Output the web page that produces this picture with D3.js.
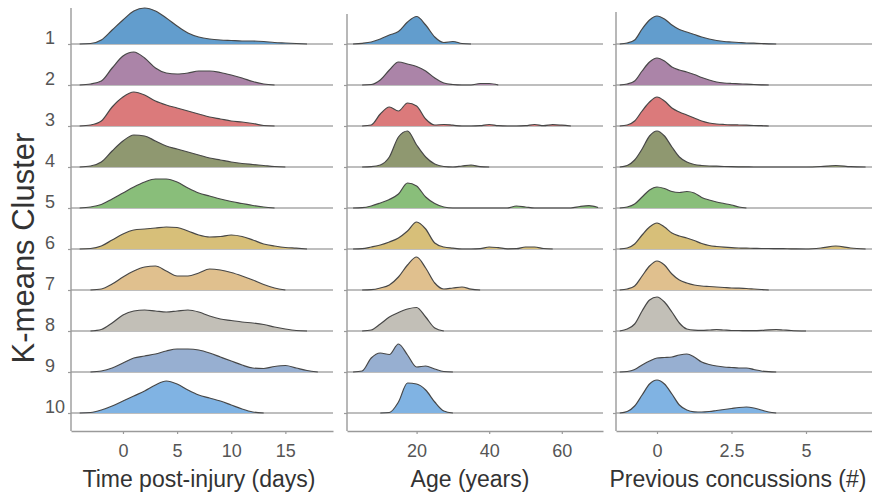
<!DOCTYPE html>
<html>
<head>
<meta charset="utf-8">
<script src="https://cdn.jsdelivr.net/npm/d3@7"></script>
<style>
  body { margin: 0; background: #fff; }
  svg { display: block; font-family: "Liberation Sans", Arial, Helvetica, sans-serif; }
</style>
</head>
<body>
<script>
// clusters, top to bottom
let clusters = ["1", "2", "3", "4", "5", "6", "7", "8", "9", "10"];
let clusterColors = ["#629dcd", "#ab84a8", "#db7a7b", "#8f9870", "#89be7a",
                     "#d7bf79", "#e0c08e", "#c2bfb7", "#97afd1", "#80b3e3"];

// density curves (relative units)
let timeGrid = [-4, -3, -2, -1, 0, 1, 2, 3, 4, 5, 6, 7, 8, 9, 10, 11, 12, 13, 14, 15, 16, 17, 18];
let timeDensity = [
  [0, 0.5, 4, 14, 24, 33, 36, 33, 26, 18, 11, 7, 5, 4, 3.5, 3, 3, 2.5, 1.5, 1, 0.5, 0, 0],
  [0, 1, 4, 17, 29, 33, 27, 17, 12, 11, 12, 14, 14, 12.5, 10, 7, 3.5, 1, 0, 0, 0, 0, 0],
  [0, 1, 5, 19, 29, 34, 31, 25, 21, 18, 15, 12, 9, 7, 5, 4, 2.5, 0.5, 0, 0, 0, 0, 0],
  [0, 1, 5, 16, 26, 32, 31, 26, 21, 18, 15, 12, 9, 7, 5, 3.5, 2.5, 1.5, 0.5, 0, 0, 0, 0],
  [0, 1, 3.5, 9, 15, 21, 26, 29, 29, 26, 20, 15, 12, 9, 6.5, 4.5, 2.5, 1, 0, 0, 0, 0, 0],
  [0, 0.5, 3, 9, 15, 19, 20, 21, 22, 21.5, 18, 14, 12, 12.5, 14, 12.5, 9, 5, 3, 1.5, 0.8, 0, 0],
  [0, 0, 1, 6, 13, 19, 23, 24, 19, 14, 14, 17, 21, 20, 17.5, 14, 10, 5.5, 2, 0, 0, 0, 0],
  [0, 0, 1.5, 8, 16, 20, 21, 20, 19, 20, 21, 19, 15, 12, 10.5, 9, 8, 6.5, 4, 2, 0.5, 0, 0],
  [0, 0, 1, 4, 9, 14, 16, 18, 21, 23, 23, 22, 19, 15, 11, 7, 4, 3.5, 5.5, 6.5, 4, 1.5, 0],
  [0, 0.5, 3, 7, 12, 17, 22, 28, 32, 29, 23, 18, 15, 12, 8, 4, 1, 0, 0, 0, 0, 0, 0]
];

let ageGrid = [2.5, 5, 7.5, 10, 12.5, 15, 17.5, 20, 22.5, 25, 27.5, 30, 32.5, 35, 37.5, 40,
               42.5, 45, 47.5, 50, 52.5, 55, 57.5, 60, 62.5, 65, 67.5, 70];
let ageDensity = [
  [0, 0.7, 2, 5, 9, 12.5, 22, 27.5, 19, 7, 1.5, 2.5, 0.5, 0, 0, 0, 0, 0, 0, 0, 0, 0, 0, 0, 0, 0, 0, 0],
  [0, 0, 0.5, 5, 15, 23, 21, 18.5, 14, 7, 2, 0.5, 0, 0, 1.5, 1.5, 0, 0, 0, 0, 0, 0, 0, 0, 0, 0, 0, 0],
  [0, 0, 1, 12, 19, 15, 23, 20, 7, 1, 1.5, 0.8, 0, 0, 0.3, 1.5, 0.3, 0, 0, 0.3, 1.5, 0.3, 1.3, 0.8, 0, 0, 0, 0],
  [0, 0, 0.3, 2, 10, 30, 36, 22, 10, 3, 0.5, 0, 1, 2, 0.3, 0, 0, 0, 0, 0, 0, 0, 0, 0, 0, 0, 0, 0],
  [0, 0.3, 2, 5, 8.5, 14, 25, 22, 11, 4.5, 1, 0, 0, 0, 0, 0, 0, 0, 2, 1, 0, 0, 0, 0, 0, 1.5, 2.3, 0.5],
  [0, 0.3, 2, 4, 7, 11, 18, 27, 20, 6, 2, 0.8, 0, 0, 0.3, 2, 1.3, 0.2, 0.3, 2, 2, 0.5, 0, 0, 0, 0, 0, 0],
  [0, 0, 0.3, 2, 5, 13, 25, 33, 22, 7, 1, 2, 3, 0.8, 0, 0, 0, 0, 0, 0, 0, 0, 0, 0, 0, 0, 0, 0],
  [0, 0, 1, 7, 14, 18.5, 22, 23.5, 14, 3, 0, 0, 0, 0, 0, 0, 0, 0, 0, 0, 0, 0, 0, 0, 0, 0, 0, 0],
  [0, 1, 14, 19, 17.5, 28, 17, 5, 6, 3, 0.5, 0, 0, 0, 0, 0, 0, 0, 0, 0, 0, 0, 0, 0, 0, 0, 0, 0],
  [0, 0, 0, 0, 0.5, 11, 30, 29, 23, 11, 2, 0, 0, 0, 0, 0, 0, 0, 0, 0, 0, 0, 0, 0, 0, 0, 0, 0]
];

let concGrid = [-1.25, -1, -0.75, -0.5, -0.25, 0, 0.25, 0.5, 0.75, 1, 1.25, 1.5, 1.75, 2, 2.25,
                2.5, 2.75, 3, 3.25, 3.5, 3.75, 4, 4.25, 4.5, 5, 5.5, 6, 6.5, 7];
let concDensity = [
  [0, 1, 4, 15, 24, 28, 25, 19, 14.5, 12, 9.5, 7, 5, 3.5, 2.5, 2, 1.5, 1, 0.8, 0.5, 0.2, 0, 0, 0, 0, 0, 0, 0, 0],
  [0, 1, 4, 14, 23, 27, 24, 18, 15, 13, 10.5, 7.5, 5, 3, 2, 1.5, 1.2, 0.8, 0.5, 0.2, 0, 0, 0, 0, 0, 0, 0, 0, 0],
  [0, 1, 5, 15, 24, 29, 25, 18, 14, 11, 8, 5, 3, 2, 1.5, 1.2, 1, 0.8, 0.5, 0.3, 0, 0, 0, 0, 0, 0, 0, 0, 0],
  [0, 1.5, 7, 18, 31, 36, 31, 20, 10, 5, 2.5, 1.5, 1, 0.8, 0.5, 0.3, 0.2, 0.1, 0, 0, 0, 0, 0, 0, 0, 0.5, 1.5, 0.3, 0],
  [0, 1, 4, 11, 18, 21, 19.5, 16.5, 15.5, 16.5, 15, 10.5, 8, 6, 4.5, 3, 1, 0, 0, 0, 0, 0, 0, 0, 0, 0, 0, 0, 0],
  [0, 1, 5, 14, 22, 26, 22, 16, 13, 11, 8.5, 5.5, 3.5, 2.5, 1.8, 1.3, 1, 0.8, 0.7, 0.5, 0.5, 0.4, 0.3, 0.2, 0, 1, 3, 1, 0],
  [0, 1, 4, 14, 24, 29, 25, 16, 10, 7, 5, 4, 3.5, 3, 2.5, 2, 1.8, 1.5, 1, 0.5, 0, 0, 0, 0, 0, 0, 0, 0, 0],
  [0, 2, 7, 20, 31, 34, 29, 19, 8, 2, 0.8, 0.6, 1, 1.5, 1, 0.5, 0.5, 0.3, 0.3, 0.6, 1.2, 1.5, 1, 0.5, 0, 0, 0, 0, 0],
  [0, 0.5, 2.5, 7, 11, 14, 14.5, 15, 17, 18, 15, 10, 7.5, 6, 5, 4.5, 4, 4, 2.5, 1, 0.3, 0, 0, 0, 0, 0, 0, 0, 0],
  [0, 1.5, 7, 18, 29, 33, 29, 19, 8, 3, 1.2, 1, 1.5, 2.5, 3.5, 4.5, 5.5, 6, 5, 3, 1, 0, 0, 0, 0, 0, 0, 0, 0]
];

let timeTicks = [0, 5, 10, 15];
let ageTicks = [20, 40, 60];
let concTicks = [0, 2.5, 5];

let w = 872;
let h = 495;
let xAxisY = 431;
let rowLabelX = 45;

let panels = [
  { grid: timeGrid, dens: timeDensity, ticks: timeTicks, domain: [-4.8, 19.4], range: [71, 333],
    top: 8, title: "Time post-injury (days)", titleX: 199, showLabels: true },
  { grid: ageGrid, dens: ageDensity, ticks: ageTicks, domain: [0.83, 71.35], range: [347, 603],
    top: 14, title: "Age (years)", titleX: 470, showLabels: false },
  { grid: concGrid, dens: concDensity, ticks: concTicks, domain: [-1.376, 7.215], range: [616, 872],
    top: 12, title: "Previous concussions (#)", titleX: 738, showLabels: false }
];

let rowScale = d3.scalePoint().domain(clusters).range([44, 413]);
let heightScale = d3.scaleLinear().domain([0, 40]).range([0, 40]);

let svg = d3.select("body")
  .append("svg")
  .attr("width", w)
  .attr("height", h);

panels.forEach(function(p) {
  let xScale = d3.scaleLinear().domain(p.domain).range(p.range);
  let g = svg.append("g");

  // ridges, top row first so lower rows sit over it
  clusters.forEach(function(c, i) {
    let base = rowScale(c);
    let vals = p.dens[i];
    let pts = p.grid.map((x, j) => [x, vals[j]]);
    // trim long runs of zeros so the outline stops where the density stops
    let first = 0, last = pts.length - 1;
    while (first < last && vals[first + 1] === 0) first++;
    while (last > first && vals[last - 1] === 0) last--;
    pts = pts.slice(first, last + 1);

    g.append("line")
      .attr("x1", p.range[0])
      .attr("x2", p.range[1])
      .attr("y1", base)
      .attr("y2", base)
      .attr("stroke", "#a8a8a8")
      .attr("stroke-width", 1.4);

    let area = d3.area()
      .x(d => xScale(d[0]))
      .y0(base)
      .y1(d => base - heightScale(d[1]))
      .curve(d3.curveMonotoneX);
    let line = d3.line()
      .x(d => xScale(d[0]))
      .y(d => base - heightScale(d[1]))
      .curve(d3.curveMonotoneX);

    g.append("path")
      .attr("d", area(pts))
      .attr("fill", clusterColors[i]);
    g.append("path")
      .attr("d", line(pts))
      .attr("fill", "none")
      .attr("stroke", "#474747")
      .attr("stroke-width", 1.2);
  });

  // y axis: line plus tiny ticks at each baseline
  let yAxis = d3.axisLeft(rowScale)
    .tickSize(3)
    .tickFormat(p.showLabels ? (d => d) : "");
  let yg = g.append("g")
    .attr("transform", "translate(" + p.range[0] + ",0)")
    .call(yAxis);
  yg.select(".domain").remove();
  yg.selectAll("line").attr("stroke", "#9a9a9a").attr("stroke-width", 1.2);
  yg.selectAll("text")
    .attr("text-anchor", "start")
    .attr("x", rowLabelX - p.range[0])
    .attr("dy", "0em")
    .attr("y", -1)
    .attr("fill", "#555")
    .style("font-size", "18px");
  g.append("line")
    .attr("x1", p.range[0])
    .attr("x2", p.range[0])
    .attr("y1", p.top)
    .attr("y2", xAxisY)
    .attr("stroke", "#9a9a9a")
    .attr("stroke-width", 1.4);

  // x axis
  let xAxis = d3.axisBottom(xScale)
    .tickValues(p.ticks)
    .tickSize(3)
    .tickSizeOuter(0)
    .tickPadding(10)
    .tickFormat(d3.format("~g"));
  let xg = g.append("g")
    .attr("transform", "translate(0," + xAxisY + ")")
    .call(xAxis);
  xg.select(".domain").attr("stroke", "#9a9a9a").attr("stroke-width", 1.4);
  xg.selectAll(".tick line").attr("stroke", "#9a9a9a").attr("stroke-width", 1.2);
  xg.selectAll("text")
    .attr("fill", "#555")
    .style("font-size", "18px");

  g.append("text")
    .attr("x", p.titleX)
    .attr("y", 487)
    .attr("text-anchor", "middle")
    .attr("fill", "#333")
    .style("font-size", "23px")
    .text(p.title);
});

svg.append("text")
  .attr("transform", "translate(34,248) rotate(-90)")
  .attr("text-anchor", "middle")
  .attr("fill", "#333")
  .style("font-size", "31px")
  .text("K-means Cluster");
</script>
</body>
</html>
